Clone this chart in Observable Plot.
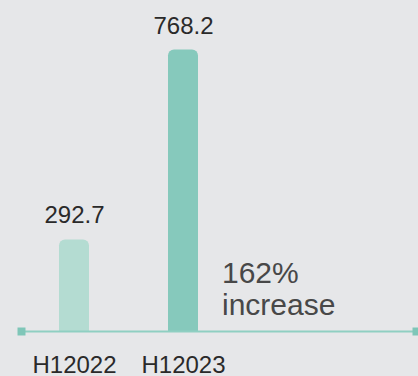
<!DOCTYPE html>
<html>
<head>
<meta charset="utf-8">
<script src="https://cdn.jsdelivr.net/npm/d3@7"></script>
<script src="https://cdn.jsdelivr.net/npm/@observablehq/plot@0.6"></script>
<style>
  html, body { margin: 0; padding: 0; background: #e6e7e9; }
  #chart { width: 418px; height: 376px; overflow: hidden; }
</style>
</head>
<body>
<div id="chart"></div>
<script>
// Half-year totals
const periods = ["H12022", "H12023"];
const values = [292.7, 768.2];
const barColors = ["#b4dcd2", "#86c9bc"];
const yFloor = 63.7; // value where the baseline sits

const data = periods.map((p, i) => ({period: p, value: values[i], color: barColors[i]}));
const growth = values[1] / values[0] - 1;
const note = `${d3.format(".0%")(growth)}\nincrease`;

const font = "Liberation Sans, Arial, Helvetica, sans-serif";

const chart = Plot.plot({
  width: 418,
  height: 376,
  marginLeft: 21,
  marginRight: 2,
  marginTop: 49.5,
  marginBottom: 45,
  style: {background: "#e6e7e9", fontFamily: font, overflow: "visible"},
  x: {domain: periods, range: [21, 236.5], paddingInner: 0.7215, paddingOuter: 0.3447, axis: null},
  y: {domain: [yFloor, 768.2], range: [331, 49.5], axis: null},
  color: {type: "identity"},
  marks: [
    // rounded top
    Plot.barY(data, {x: "period", y1: yFloor, y2: "value", fill: "color", rx: 6}),
    // squared-off lower part
    Plot.barY(data, {x: "period", y1: yFloor, y2: "value", fill: "color", insetTop: 8}),
    Plot.ruleY([yFloor], {stroke: "#8fcfc2", strokeWidth: 2}),
    Plot.dot([yFloor], {y: d => d, frameAnchor: "left", symbol: "square", r: 4.51, fill: "#7fc6b8"}),
    Plot.dot([yFloor], {y: d => d, frameAnchor: "right", symbol: "square", r: 4.51, fill: "#7fc6b8"}),
    Plot.text(data, {x: "period", y: "value", text: d => d.value.toFixed(1), lineAnchor: "bottom", dy: -16.5, fontSize: 24, fill: "#2a2a2a"}),
    Plot.text(data, {x: "period", y: yFloor, text: "period", lineAnchor: "bottom", dy: 41, fontSize: 24, fill: "#2a2a2a"}),
    Plot.text([note], {x: () => periods[1], y: () => yFloor, text: d => d, textAnchor: "start", lineAnchor: "bottom", dx: 38.5, dy: -17, fontSize: 30, lineHeight: 1.067, fill: "#484848"})
  ]
});

document.getElementById("chart").append(chart);
</script>
</body>
</html>
